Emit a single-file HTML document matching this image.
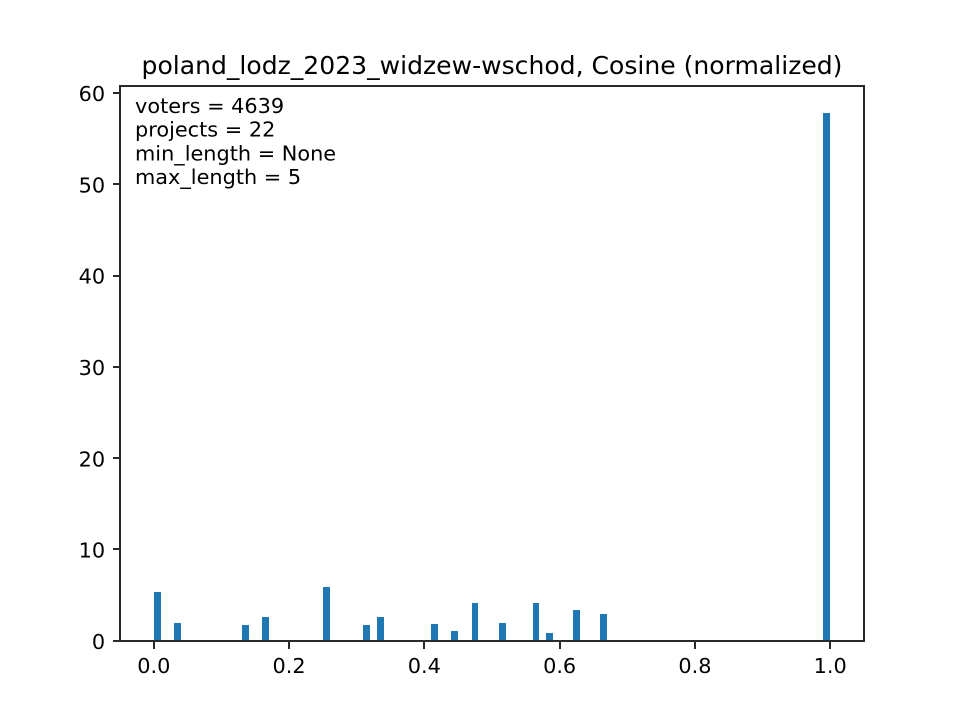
<!DOCTYPE html>
<html>
<head>
<meta charset="utf-8">
<title>poland_lodz_2023_widzew-wschod, Cosine (normalized)</title>
<style>
html,body{margin:0;padding:0;background:#fff;width:960px;height:720px;overflow:hidden}
svg{display:block}
text{font-family:"DejaVu Sans","Liberation Sans",sans-serif;fill:#000}
</style>
</head>
<body>
<svg id="chart" xmlns="http://www.w3.org/2000/svg" width="960" height="720" viewBox="0 0 960 720">
  <rect x="0" y="0" width="960" height="720" fill="#fff"/>
  <text x="492" y="74" font-size="25.07" text-anchor="middle">poland_lodz_2023_widzew-wschod, Cosine (normalized)</text>
  <g id="bars"></g>
  <g id="xaxis"></g>
  <g id="yaxis"></g>
  <g fill="none" stroke="#2a2a2a" stroke-width="2" shape-rendering="crispEdges">
    <line x1="120" y1="85" x2="120" y2="642"/>
    <line x1="864" y1="85" x2="864" y2="642"/>
    <line x1="119" y1="86" x2="865" y2="86"/>
    <line x1="119" y1="641" x2="865" y2="641"/>
  </g>
  <g id="annotation" font-size="20.83"></g>
</svg>
<script>
const binStarts = [0.00, 0.03, 0.13, 0.16, 0.25, 0.31, 0.33, 0.41, 0.44, 0.47, 0.51, 0.56, 0.58, 0.62, 0.66, 0.99];
const binValues = [5.33, 1.93, 1.72, 2.59, 5.88, 1.72, 2.59, 1.83, 1.06, 4.13, 1.93, 4.13, 0.84, 3.36, 2.92, 57.83];
const binWidth = 0.01;
const xTicks = [0.0, 0.2, 0.4, 0.6, 0.8, 1.0];
const yTicks = [0, 10, 20, 30, 40, 50, 60];
const noteLines = ["voters = 4639", "projects = 22", "min_length = None", "max_length = 5"];

const NS = "http://www.w3.org/2000/svg";
const plotLeft = 120, plotRight = 864, plotTop = 86.4, plotBottom = 640.8;
const xMin = -0.05, xMax = 1.05;
const yMin = 0, yMax = Math.max(...binValues) * 1.05;

function xScale(v) { return plotLeft + (v - xMin) / (xMax - xMin) * (plotRight - plotLeft); }
function yScale(v) { return plotBottom - (v - yMin) / (yMax - yMin) * (plotBottom - plotTop); }
function make(tag, attrs, parent) {
  const el = document.createElementNS(NS, tag);
  for (const k in attrs) el.setAttribute(k, attrs[k]);
  parent.appendChild(el);
  return el;
}

const barsG = document.getElementById("bars");
binStarts.forEach(function (start, i) {
  const x0 = Math.round(xScale(start));
  const x1 = Math.round(xScale(start + binWidth));
  const yTop = Math.round(yScale(binValues[i]));
  const r = make("rect", { x: x0, y: yTop, width: x1 - x0, height: Math.round(plotBottom) - yTop, fill: "#1f77b4", "shape-rendering": "crispEdges" }, barsG);
  
  
});

const xG = document.getElementById("xaxis");
xTicks.forEach(function (t) {
  const x = xScale(t);
  const xSnap = Math.round(x);
  const tick = make("line", { x1: xSnap, x2: xSnap, y1: 641, y2: 649, stroke: "#2a2a2a", "stroke-width": 2, "shape-rendering": "crispEdges" }, xG);
  
  
  const label = make("text", { x: x, y: 673, "font-size": 20.83, "text-anchor": "middle" }, xG);
  
  
  label.textContent = t.toFixed(1);
});

const yG = document.getElementById("yaxis");
yTicks.forEach(function (t) {
  const y = yScale(t);
  const ySnap = Math.round(y);
  const tick = make("line", { x1: 113, x2: 120, y1: ySnap, y2: ySnap, stroke: "#2a2a2a", "stroke-width": 2, "shape-rendering": "crispEdges" }, yG);
  
  
  const label = make("text", { x: 105.2, y: y + 8.1, "font-size": 20.83, "text-anchor": "end" }, yG);
  
  
  label.textContent = String(t);
});

const noteG = document.getElementById("annotation");
noteLines.forEach(function (line, i) {
  const n = make("text", { x: 135, y: 113 + i * 23.7 }, noteG);
  
  
  n.textContent = line;
});
</script>
</body>
</html>
